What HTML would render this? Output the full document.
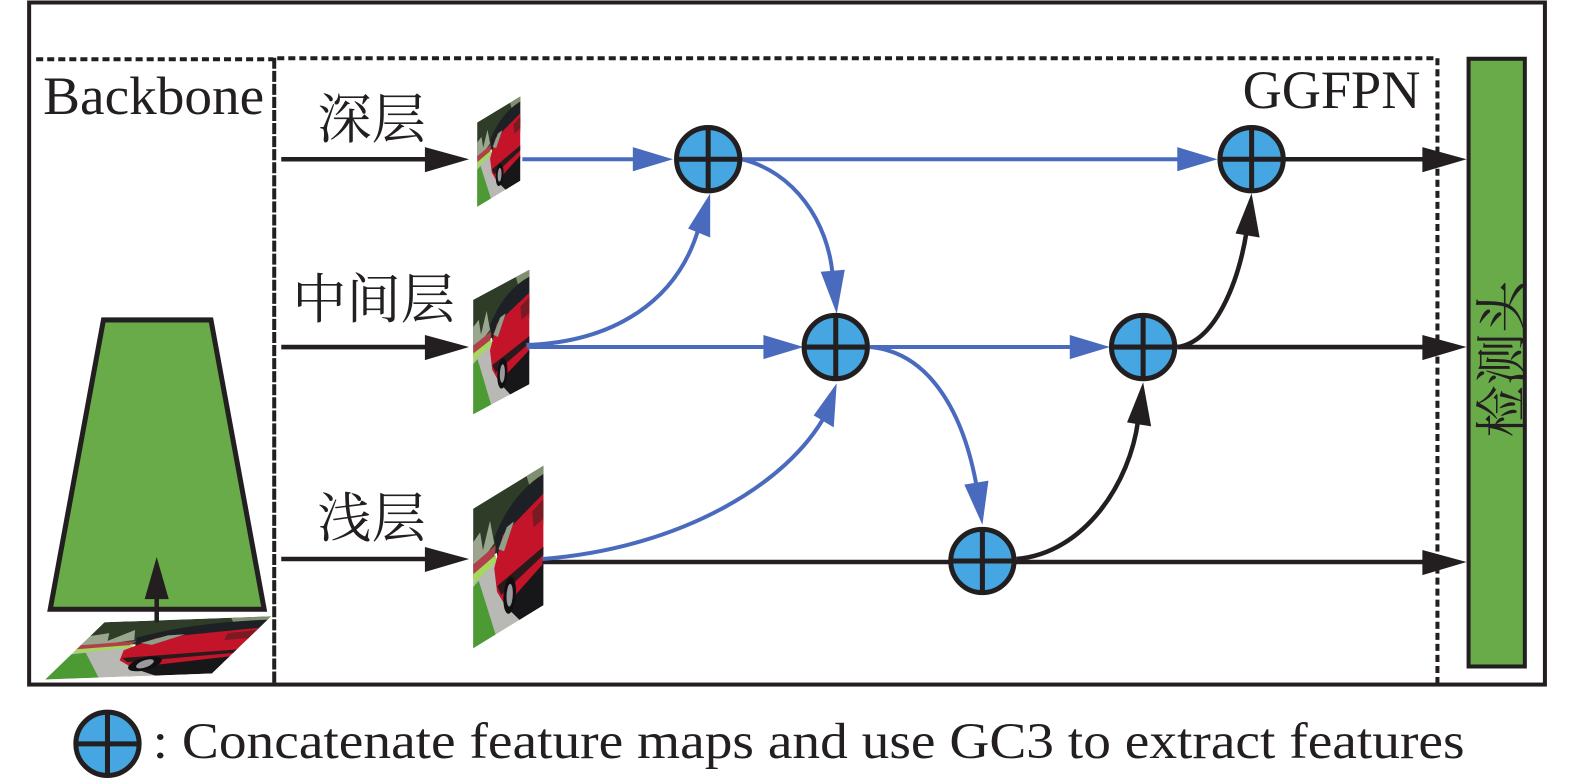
<!DOCTYPE html>
<html><head><meta charset="utf-8"><style>
html,body{margin:0;padding:0;background:#fff}
svg{display:block}
.s{font-family:"Liberation Serif","Noto Serif CJK SC",serif;fill:#231f20}
</style></head><body>
<svg width="1575" height="780" viewBox="0 0 1575 780" xmlns="http://www.w3.org/2000/svg">
<defs>
<clipPath id="u"><rect x="0" y="0" width="100" height="100"/></clipPath>
<g id="car" clip-path="url(#u)">
<rect width="100" height="100" fill="#fff"/>
<rect width="100" height="42" fill="#2f3d28"/>
<path d="M0 24L10 20 14 34 24 16 30 34 0 46Z" fill="#9aa78e"/>
<path d="M76 0L100 0 100 14 84 16Z" fill="#7f8f70"/>
<path d="M0 40L32 36 30 46 0 50Z" fill="#b0404a"/>
<path d="M0 50L34 46 74 100 0 100Z" fill="#b8b8b4"/>
<path d="M0 56L8 54 32 100 0 100Z" fill="#4c9a34"/>
<path d="M0 47L32 43 34 48 0 54Z" fill="#a6d860"/>
<path d="M30 30Q55 6 100 6L100 32 36 50Z" fill="#1d2024"/>
<path d="M30 52L42 32 100 20 100 74 48 86 34 70Z" fill="#c4142a"/>
<path d="M36 40L48 28 58 27 44 44Z" fill="#8ea08a"/>
<path d="M84 28L100 24 100 38 86 40Z" fill="#7a1a22"/>
<path d="M34 66L100 58 100 64 40 74Z" fill="#2b1a1c"/>
<path d="M46 84L100 70 100 100 66 100Z" fill="#17171a"/>
<ellipse cx="52" cy="78" rx="9" ry="13" fill="#101012"/>
<ellipse cx="52" cy="78" rx="4.5" ry="8" fill="#9a9a9c"/>
</g>
<g id="node">
<circle r="31.5" fill="#45a6e1" stroke="#231f20" stroke-width="5"/>
<path d="M-31 0H31M0-31V31" stroke="#231f20" stroke-width="5" fill="none"/>
</g>
</defs>

<g transform="translate(0,0.5) scale(1.0045)">
<!-- outer frame -->
<rect x="29" y="2" width="1509" height="679" fill="none" stroke="#231f20" stroke-width="4"/>
<!-- dashed regions -->
<path d="M36 58.500H272M276 57.500H1431V680" fill="none" stroke="#231f20" stroke-width="4" stroke-dasharray="7 4"/>
<path d="M273 57V682" fill="none" stroke="#231f20" stroke-width="4" stroke-dasharray="11 2"/>

<!-- backbone -->
<polygon points="103,318 210,318 263,606 50,606" fill="#69ab49" stroke="#231f20" stroke-width="5" stroke-linejoin="miter"/>
<g transform="matrix(1.66,-.06,-.59,.57,104,619)"><use href="#car"/></g>
<path d="M156 619V590" stroke="#231f20" stroke-width="4.500"/>
<polygon points="156,554 168,596 144,596" fill="#231f20"/>

<!-- feature patches -->
<g transform="matrix(.43,-.26,0,.84,475,121.500)"><use href="#car"/></g>
<g transform="matrix(.56,-.3,0,1.14,471,298)"><use href="#car"/></g>
<g transform="matrix(.7,-.43,0,1.39,471,506)"><use href="#car"/></g>

<!-- green head -->
<rect x="1462" y="58" width="56" height="605" fill="#69ab49" stroke="#231f20" stroke-width="4"/>

<!-- black straight -->
<g stroke="#231f20" stroke-width="4.500" fill="none">
<path d="M280 158H430M280 345H430M280 556H430"/>
<path d="M1275 158H1425M1172 345H1425M540 559H950M1008 559H1425"/>
<path d="M1012 556C1080 550 1125 480 1133 418"/>
<path d="M1172 345C1210 340 1233 280 1241 230"/>
</g>
<g fill="#231f20">
<polygon points="467,158 423,146 423,171"/>
<polygon points="467,345 423,333 423,358"/>
<polygon points="467,556 423,544 423,569"/>
<polygon points="1460,158 1416,146 1416,171"/>
<polygon points="1460,345 1416,333 1416,358"/>
<polygon points="1460,559 1416,547 1416,572"/>
<polygon points="1138,380 1146,424 1122,420"/>
<polygon points="1246,192 1254,236 1230,232"/>
</g>

<!-- blue -->
<g stroke="#4a6bbd" stroke-width="4" fill="none">
<path d="M520 158H640M738 158H1180M525 345H765M866 345H1070"/>
<path d="M524 343C610 340 675 300 696 225"/>
<path d="M738 158C790 170 825 220 829 275"/>
<path d="M540 556C680 545 785 480 822 412"/>
<path d="M866 345C925 350 960 410 973 488"/>
</g>
<g fill="#4a6bbd">
<polygon points="670,158 630,146 630,170"/>
<polygon points="1212,158 1172,146 1172,170"/>
<polygon points="800,345 760,333 760,357"/>
<polygon points="1105,345 1065,333 1065,357"/>
<polygon points="707,192 707,236 685,227"/>
<polygon points="833,312 817,270 841,268"/>
<polygon points="833,381 830,425 810,413"/>
<polygon points="978,522 960,482 984,478"/>
</g>

<!-- nodes -->
<use href="#node" x="705" y="158"/>
<use href="#node" x="1246" y="158"/>
<use href="#node" x="832" y="345"/>
<use href="#node" x="1138" y="345"/>
<use href="#node" x="978" y="558"/>
<use href="#node" x="107" y="740"/>

<!-- text -->
<text class="s" x="43" y="113" font-size="54" textLength="220" lengthAdjust="spacingAndGlyphs">Backbone</text>
<text class="s" x="1237" y="107" font-size="54" textLength="177" lengthAdjust="spacingAndGlyphs">GGFPN</text>
<text class="s" x="316" y="137" font-size="54">深层</text>
<text class="s" x="291" y="316" font-size="54">中间层</text>
<text class="s" x="316" y="534" font-size="54">浅层</text>
<text class="s" transform="translate(1513,435) rotate(-90)" font-size="52">检测头</text>
<text class="s" x="152" y="754" font-size="51" textLength="1306" lengthAdjust="spacingAndGlyphs">: Concatenate feature maps and use GC3 to extract features</text>
</g>
</svg>
</body></html>
